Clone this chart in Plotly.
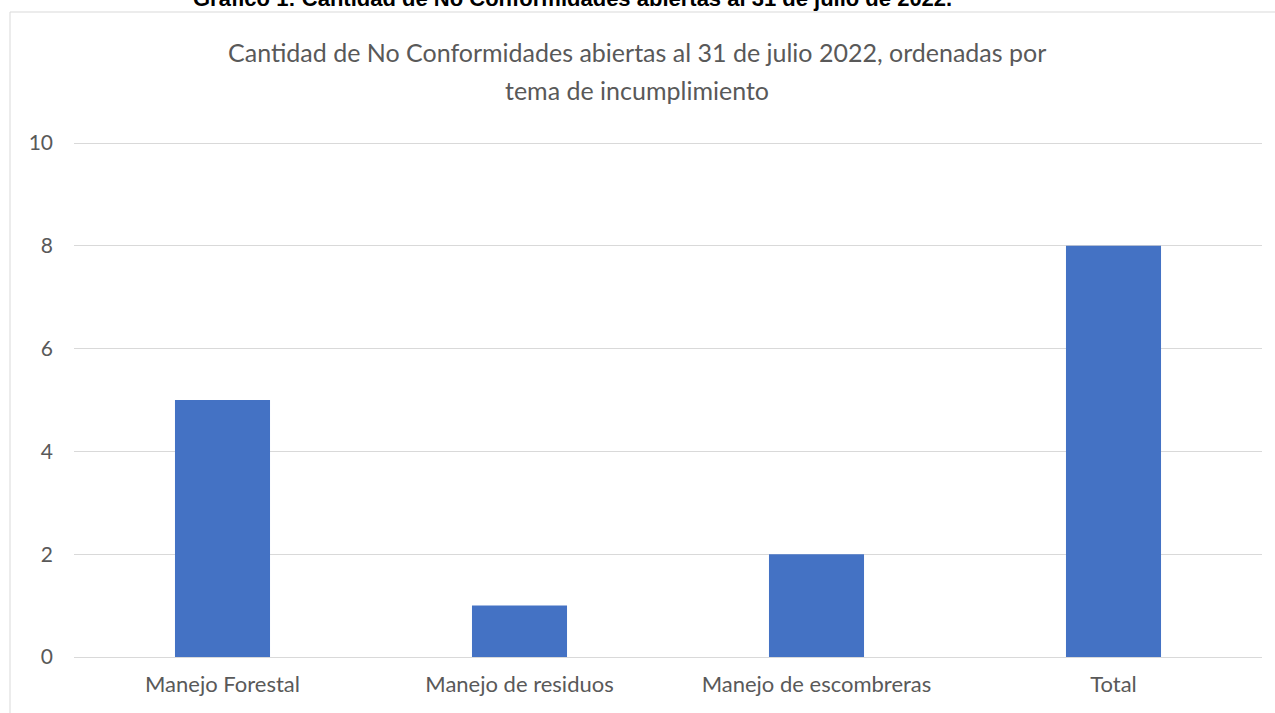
import plotly.graph_objects as go

categories = ["Manejo Forestal", "Manejo de residuos", "Manejo de escombreras", "Total"]
values = [5, 1, 2, 8]
y_ticks = [0, 2, 4, 6, 8, 10]

title_line1 = "Cantidad de No Conformidades abiertas al 31 de julio 2022, ordenadas por"
title_line2 = "tema de incumplimiento"
doc_caption = "Gráfico 1: Cantidad de No Conformidades abiertas al 31 de julio de 2022."

W, H = 1275, 713
ml, mr, mt, mb = 74, 13, 142, 56
pw, ph = W - ml - mr, H - mt - mb

def px_x(x):
    return (x - ml) / pw

def px_y(y):
    return (H - mb - y) / ph

fig = go.Figure(
    go.Bar(
        x=categories,
        y=values,
        marker=dict(color="#4472C4", line=dict(width=0)),
        width=0.32,
    )
)

font_main = "Lato, 'Open Sans', sans-serif"

fig.update_layout(
    width=W,
    height=H,
    margin=dict(l=ml, r=mr, t=mt, b=mb, autoexpand=False),
    paper_bgcolor="white",
    plot_bgcolor="white",
    showlegend=False,
    font=dict(family=font_main, color="#595959", size=21),
    xaxis=dict(
        showgrid=False,
        showline=False,
        zeroline=False,
        tickfont=dict(size=22, color="#595959"),
        ticklabelstandoff=12,
    ),
    yaxis=dict(
        range=[0, 10.02],
        tickvals=y_ticks,
        showgrid=True,
        gridcolor="#d9d9d9",
        gridwidth=1,
        zeroline=True,
        zerolinecolor="#d9d9d9",
        zerolinewidth=1,
        showline=False,
        tickfont=dict(size=21, color="#595959"),
        ticklabelstandoff=20,
    ),
    shapes=[
        dict(
            type="rect",
            xref="paper",
            yref="paper",
            x0=px_x(10),
            x1=px_x(W + 20),
            y0=px_y(H + 20),
            y1=px_y(12),
            line=dict(color="#d9d9d9", width=1),
            fillcolor="rgba(0,0,0,0)",
            layer="below",
        )
    ],
    annotations=[
        dict(
            text=title_line1,
            xref="paper",
            yref="paper",
            x=px_x(637),
            y=px_y(52),
            xanchor="center",
            yanchor="middle",
            showarrow=False,
            font=dict(family=font_main, size=25, color="#595959"),
        ),
        dict(
            text=title_line2,
            xref="paper",
            yref="paper",
            x=px_x(637),
            y=px_y(90),
            xanchor="center",
            yanchor="middle",
            showarrow=False,
            font=dict(family=font_main, size=25, color="#595959"),
        ),
        dict(
            text="<b>" + doc_caption + "</b>",
            xref="paper",
            yref="paper",
            x=px_x(572),
            y=px_y(-2),
            xanchor="center",
            yanchor="middle",
            showarrow=False,
            font=dict(family="'Liberation Sans', Arial, sans-serif", size=22, color="#000000"),
        ),
    ],
)

fig.write_html("out.html")
